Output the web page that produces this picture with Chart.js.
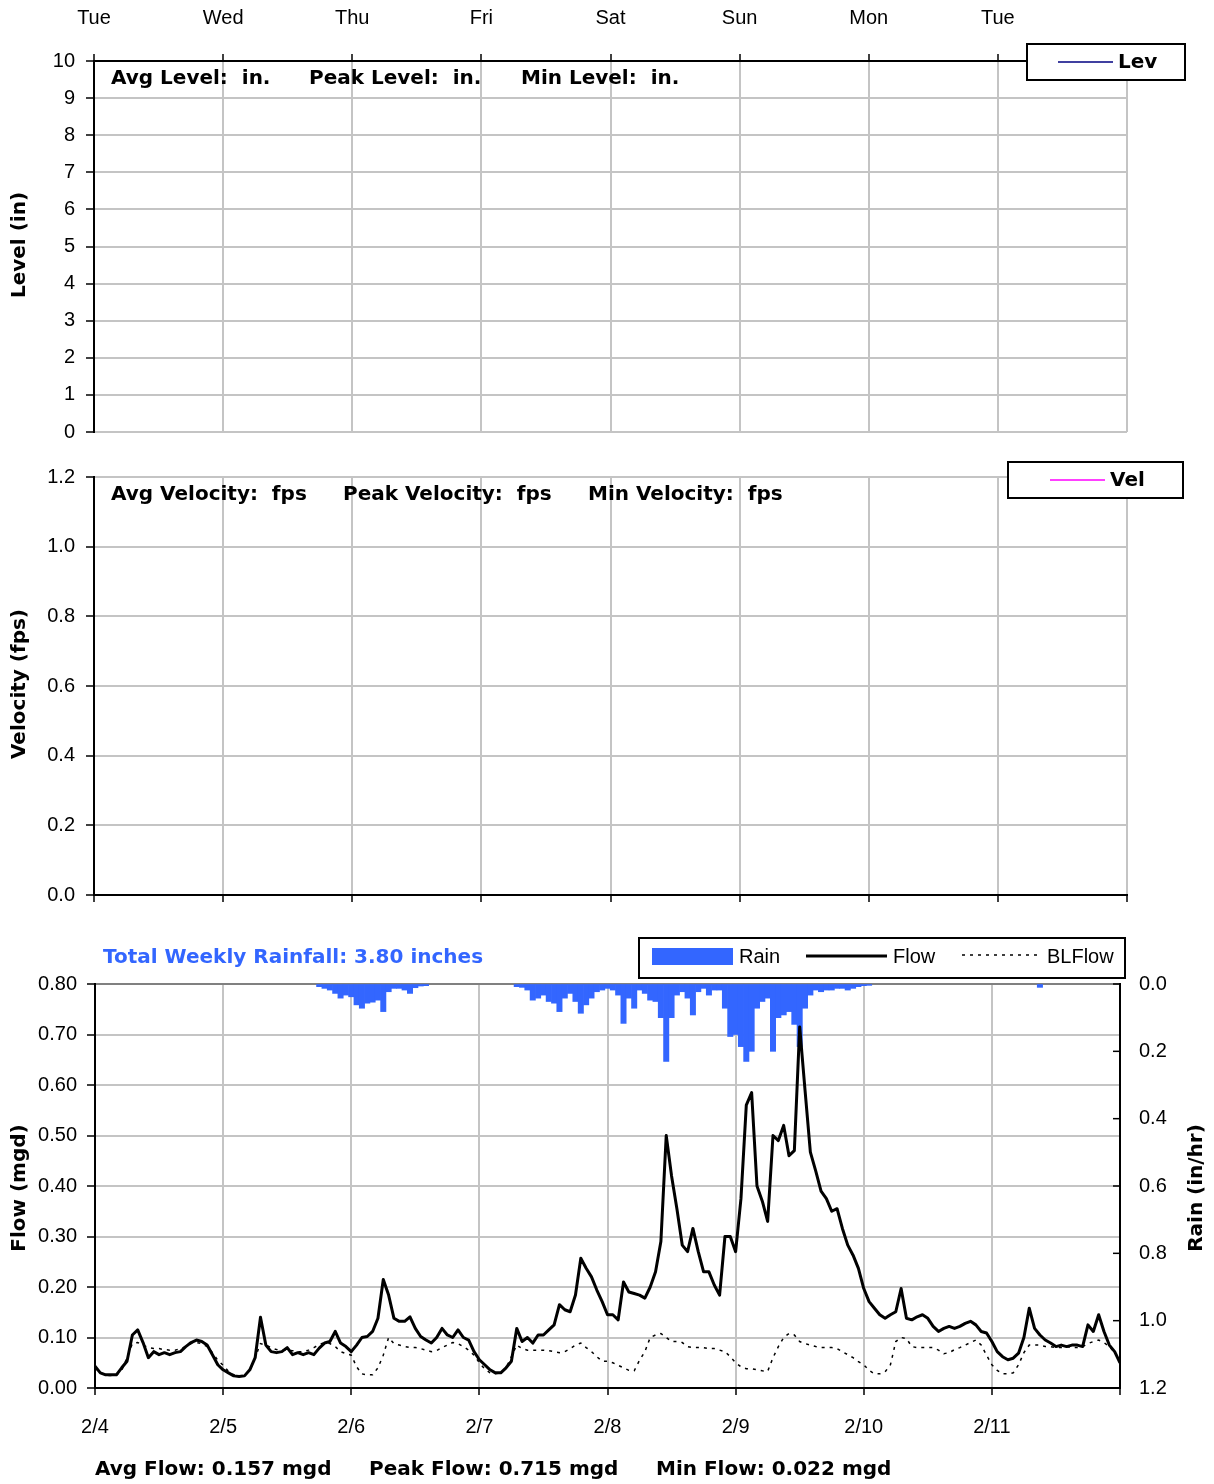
<!DOCTYPE html>
<html>
<head>
<meta charset="utf-8">
<script src="https://cdn.jsdelivr.net/npm/chart.js@4.4.1/dist/chart.umd.min.js"></script>
<style>
body { margin: 0; background: #fff; }
canvas { position: absolute; left: 0; display: block; }
</style>
</head>
<body>
<canvas id="levelChart" width="1214" height="455" style="top:0"></canvas>
<canvas id="velocityChart" width="1214" height="473" style="top:445px"></canvas>
<canvas id="flowChart" width="1214" height="569" style="top:915px"></canvas>
<script>
var dayLabels = ['Tue', 'Wed', 'Thu', 'Fri', 'Sat', 'Sun', 'Mon', 'Tue'];
var dateLabels = ['2/4', '2/5', '2/6', '2/7', '2/8', '2/9', '2/10', '2/11'];

// hourly flow (mgd), 2/4 00:00 .. 2/12 00:00
var flow = [
	0.043,0.030,0.026,0.026,0.026,0.040,0.053,0.105,0.115,0.090,0.060,0.072,0.066,0.070,0.066,0.070,0.072,0.082,0.090,0.095,0.092,0.085,0.066,0.046,
	0.036,0.030,0.024,0.023,0.024,0.036,0.060,0.140,0.085,0.072,0.070,0.072,0.080,0.066,0.070,0.066,0.070,0.066,0.079,0.089,0.092,0.112,0.089,0.082,
	0.072,0.085,0.100,0.102,0.112,0.138,0.215,0.184,0.138,0.132,0.132,0.141,0.118,0.102,0.095,0.089,0.100,0.118,0.105,0.100,0.115,0.100,0.095,0.072,
	0.056,0.046,0.036,0.030,0.030,0.040,0.053,0.118,0.092,0.100,0.089,0.105,0.105,0.115,0.125,0.165,0.155,0.151,0.184,0.257,0.237,0.220,0.194,0.171,
	0.145,0.145,0.135,0.210,0.190,0.187,0.184,0.178,0.200,0.230,0.290,0.500,0.420,0.355,0.283,0.270,0.316,0.270,0.230,0.230,0.204,0.184,0.300,0.300,
	0.270,0.375,0.560,0.585,0.400,0.370,0.330,0.500,0.490,0.520,0.460,0.470,0.715,0.590,0.467,0.430,0.390,0.375,0.350,0.355,0.316,0.283,0.263,0.237,
	0.197,0.171,0.158,0.145,0.138,0.145,0.151,0.197,0.138,0.135,0.141,0.145,0.138,0.122,0.112,0.118,0.122,0.118,0.122,0.128,0.132,0.125,0.112,0.109,
	0.092,0.072,0.062,0.056,0.059,0.069,0.100,0.158,0.118,0.105,0.095,0.089,0.082,0.085,0.082,0.085,0.085,0.082,0.125,0.112,0.145,0.112,0.085,0.072,
	0.050
];

// hourly baseline flow (mgd)
var blFlow = [
	0.040,0.030,0.025,0.025,0.025,0.035,0.060,0.088,0.090,0.085,0.080,0.078,0.078,0.076,0.075,0.075,0.078,0.082,0.088,0.090,0.088,0.082,0.070,0.055,
	0.045,0.033,0.026,0.024,0.025,0.035,0.060,0.088,0.085,0.080,0.076,0.075,0.075,0.074,0.072,0.072,0.075,0.080,0.086,0.090,0.088,0.082,0.072,0.068,
	0.065,0.042,0.028,0.026,0.026,0.040,0.065,0.100,0.088,0.085,0.082,0.080,0.080,0.078,0.075,0.072,0.074,0.080,0.085,0.090,0.088,0.082,0.075,0.065,
	0.050,0.038,0.030,0.028,0.030,0.040,0.062,0.085,0.078,0.075,0.075,0.075,0.075,0.074,0.072,0.070,0.072,0.078,0.085,0.089,0.080,0.072,0.062,0.053,
	0.053,0.050,0.045,0.040,0.035,0.034,0.055,0.072,0.100,0.105,0.108,0.100,0.092,0.092,0.090,0.082,0.080,0.080,0.080,0.078,0.078,0.075,0.072,0.062,
	0.050,0.042,0.038,0.038,0.036,0.034,0.033,0.060,0.082,0.100,0.108,0.105,0.092,0.088,0.085,0.082,0.080,0.080,0.080,0.078,0.072,0.066,0.060,0.052,
	0.046,0.035,0.028,0.028,0.032,0.046,0.092,0.100,0.098,0.082,0.080,0.080,0.080,0.080,0.075,0.068,0.070,0.076,0.080,0.085,0.090,0.095,0.085,0.065,
	0.046,0.035,0.028,0.028,0.030,0.046,0.070,0.085,0.085,0.085,0.082,0.082,0.080,0.080,0.082,0.080,0.080,0.082,0.088,0.092,0.095,0.090,0.082,0.070,
	0.055
];

// hourly rain (in/hr)
var rain = [
	0,0,0,0,0,0,0,0,0,0,0,0,0,0,0,0,0,0,0,0,0,0,0,0,
	0,0,0,0,0,0,0,0,0,0,0,0,0,0,0,0,0,0,0.008,0.013,0.018,0.028,0.042,0.033,
	0.038,0.062,0.072,0.057,0.054,0.048,0.082,0.023,0.013,0.013,0.018,0.028,0.011,0.006,0.005,0,0,0,0,0,0,0,0,0,
	0,0,0,0,0,0,0,0.008,0.010,0.018,0.048,0.042,0.033,0.052,0.057,0.082,0.042,0.028,0.052,0.087,0.062,0.042,0.023,0.018,
	0.013,0.018,0.033,0.117,0.042,0.072,0.018,0.028,0.048,0.052,0.100,0.230,0.100,0.033,0.023,0.042,0.092,0.023,0.013,0.033,0.018,0.018,0.072,0.156,
	0.150,0.186,0.230,0.200,0.072,0.052,0.042,0.200,0.100,0.092,0.082,0.120,0.186,0.072,0.033,0.018,0.023,0.018,0.018,0.013,0.013,0.018,0.013,0.008,
	0.005,0.004,0,0,0,0,0,0,0,0,0,0,0,0,0,0,0,0,0,0,0,0,0,0,
	0,0,0,0,0,0,0,0,0,0.010,0,0,0,0,0,0,0,0,0,0,0,0,0,0
];

var levelStats = ['Avg Level:  in.', 'Peak Level:  in.', 'Min Level:  in.'];
var velocityStats = ['Avg Velocity:  fps', 'Peak Velocity:  fps', 'Min Velocity:  fps'];
var flowStats = ['Avg Flow: 0.157 mgd', 'Peak Flow: 0.715 mgd', 'Min Flow: 0.022 mgd'];
var rainTitle = 'Total Weekly Rainfall: 3.80 inches';

var TICK_FONT = '"Liberation Sans", Arial, sans-serif';
var BOLD_FONT = 'bold 20px "DejaVu Sans", Verdana, sans-serif';
var GRID = '#c4c4c4';
var RAIN_BLUE = '#3366ff';

Chart.defaults.font.family = TICK_FONT;
Chart.defaults.font.size = 20;
Chart.defaults.color = '#000';
Chart.defaults.animation = false;
Chart.defaults.plugins.legend.display = false;
Chart.defaults.plugins.tooltip.enabled = false;

var fixWidth = function(w) { return function(scale) { scale.width = w; }; };
var fixHeight = function(h) { return function(scale) { scale.height = h; }; };
var toPoints = function(arr) {
	return arr.map(function(v, i) { return {x: i, y: v}; });
};
var rainPoints = function(arr) {
	return toPoints(arr).filter(function(p) { return p.y > 0; });
};

var drawText = function(ctx, str, x, y, font, color, align, angle) {
	ctx.save();
	ctx.font = font;
	ctx.fillStyle = color || '#000';
	ctx.textAlign = align || 'left';
	ctx.textBaseline = 'middle';
	ctx.translate(x, y);
	if (angle) ctx.rotate(angle);
	ctx.fillText(str, 0, 0);
	ctx.restore();
};

var drawBox = function(ctx, x, y, w, h) {
	ctx.fillStyle = '#fff';
	ctx.fillRect(x, y, w, h);
	ctx.strokeStyle = '#000';
	ctx.lineWidth = 2;
	ctx.strokeRect(x, y, w, h);
};

var overlay = function(id, draw) {
	return {
		id: id,
		afterDraw: function(chart) {
			var ctx = chart.ctx;
			ctx.save();
			draw(chart, ctx);
			ctx.restore();
		}
	};
};

var dayAxis = function(position, height, showLabels, labels, padding) {
	return {
		type: 'linear', position: position, min: 0, max: 192, offset: false,
		afterFit: fixHeight(height),
		ticks: {
			stepSize: 24, autoSkip: false, maxRotation: 0, display: showLabels, padding: padding,
			callback: function(v) { return labels[v / 24] || ''; }
		},
		grid: { color: GRID, lineWidth: 2, tickLength: 7, tickColor: '#000', tickWidth: 1.5, offset: false },
		border: { color: '#000', width: 2 }
	};
};

/* Level
------------------------------------------------ */
new Chart(document.getElementById('levelChart'), {
	type: 'line',
	data: { datasets: [{ label: 'Lev', data: [], borderColor: '#000080', borderWidth: 1.5 }] },
	options: {
		responsive: false,
		devicePixelRatio: 1,
		layout: { padding: { top: 0, right: 87, bottom: 0, left: 0 } },
		scales: {
			x: dayAxis('top', 61, true, dayLabels, 24),
			y: {
				min: 0, max: 10, afterFit: fixWidth(94),
				ticks: { stepSize: 1, padding: 11 },
				grid: { color: GRID, lineWidth: 2, tickLength: 8, tickColor: '#000', tickWidth: 1.5 },
				border: { color: '#000', width: 2 }
			}
		}
	},
	plugins: [overlay('levelText', function(chart, ctx) {
		var xs = [111, 309, 521];
		levelStats.forEach(function(s, i) { drawText(ctx, s, xs[i], 79, BOLD_FONT); });
		drawText(ctx, 'Level (in)', 20, 245, BOLD_FONT, '#000', 'center', -Math.PI / 2);
		var ds = chart.data.datasets[0];
		drawBox(ctx, 1027, 44, 158, 36);
		ctx.strokeStyle = ds.borderColor;
		ctx.lineWidth = 1.5;
		ctx.beginPath(); ctx.moveTo(1058, 62); ctx.lineTo(1113, 62); ctx.stroke();
		drawText(ctx, ds.label, 1118, 63, BOLD_FONT);
	})]
});

/* Velocity
------------------------------------------------ */
new Chart(document.getElementById('velocityChart'), {
	type: 'line',
	data: { datasets: [{ label: 'Vel', data: [], borderColor: '#ff00ff', borderWidth: 1.5 }] },
	options: {
		responsive: false,
		devicePixelRatio: 1,
		layout: { padding: { top: 32, right: 87, bottom: 0, left: 0 } },
		scales: {
			x: dayAxis('bottom', 18, false, dateLabels, 0),
			y: {
				min: 0, max: 1.2, afterFit: fixWidth(94),
				ticks: { stepSize: 0.2, padding: 11, callback: function(v) { return v.toFixed(1); } },
				grid: { color: GRID, lineWidth: 2, tickLength: 8, tickColor: '#000', tickWidth: 1.5 },
				border: { color: '#000', width: 2 }
			}
		}
	},
	plugins: [overlay('velocityText', function(chart, ctx) {
		var xs = [111, 343, 588];
		velocityStats.forEach(function(s, i) { drawText(ctx, s, xs[i], 50, BOLD_FONT); });
		drawText(ctx, 'Velocity (fps)', 20, 239, BOLD_FONT, '#000', 'center', -Math.PI / 2);
		var ds = chart.data.datasets[0];
		drawBox(ctx, 1008, 17, 175, 36);
		ctx.strokeStyle = ds.borderColor;
		ctx.lineWidth = 1.5;
		ctx.beginPath(); ctx.moveTo(1050, 35); ctx.lineTo(1105, 35); ctx.stroke();
		drawText(ctx, ds.label, 1110, 36, BOLD_FONT);
	})]
});

/* Flow / Rain
------------------------------------------------ */
new Chart(document.getElementById('flowChart'), {
	type: 'line',
	data: {
		datasets: [{
			label: 'Flow',
			data: toPoints(flow),
			borderColor: '#000',
			borderWidth: 3,
			borderJoinStyle: 'round',
			pointRadius: 0,
			tension: 0,
			yAxisID: 'y',
			order: 1
		}, {
			label: 'BLFlow',
			data: toPoints(blFlow),
			borderColor: '#000',
			borderWidth: 1.5,
			borderDash: [3, 5],
			pointRadius: 0,
			tension: 0,
			yAxisID: 'y',
			order: 2
		}, {
			type: 'bar',
			label: 'Rain',
			data: rainPoints(rain),
			backgroundColor: RAIN_BLUE,
			borderWidth: 0,
			barPercentage: 1,
			categoryPercentage: 1,
			yAxisID: 'y2',
			order: 3
		}]
	},
	options: {
		responsive: false,
		devicePixelRatio: 1,
		layout: { padding: { top: 69, right: 0, bottom: 0, left: 0 } },
		scales: {
			x: dayAxis('bottom', 96, true, dateLabels, 20),
			y: {
				position: 'left', min: 0, max: 0.8, afterFit: fixWidth(95),
				ticks: { stepSize: 0.1, padding: 10, callback: function(v) { return v.toFixed(2); } },
				grid: {
					color: function(c) { return c.tick && c.tick.value >= 0.8 ? '#808080' : GRID; },
					lineWidth: 2, tickLength: 8, tickColor: '#000', tickWidth: 1.5
				},
				border: { color: '#000', width: 2 }
			},
			y2: {
				position: 'right', min: 0, max: 1.2, reverse: true, afterFit: fixWidth(94),
				ticks: { stepSize: 0.2, padding: 19, callback: function(v) { return v.toFixed(1); } },
				grid: { drawOnChartArea: false, drawTicks: false },
				border: { color: '#000', width: 2 }
			}
		}
	},
	plugins: [overlay('flowText', function(chart, ctx) {
		var y2 = chart.scales.y2;
		ctx.strokeStyle = '#000';
		ctx.lineWidth = 1.5;
		y2.ticks.forEach(function(t) {
			var py = y2.getPixelForValue(t.value);
			ctx.beginPath(); ctx.moveTo(y2.left - 7, py); ctx.lineTo(y2.left, py); ctx.stroke();
		});

		drawText(ctx, rainTitle, 103, 43, BOLD_FONT, RAIN_BLUE);
		var xs = [95, 369, 656];
		flowStats.forEach(function(s, i) { drawText(ctx, s, xs[i], 555, BOLD_FONT); });
		drawText(ctx, 'Flow (mgd)', 20, 273, BOLD_FONT, '#000', 'center', -Math.PI / 2);
		drawText(ctx, 'Rain (in/hr)', 1197, 273, BOLD_FONT, '#000', 'center', -Math.PI / 2);

		// legend
		var ds = chart.data.datasets;
		var legendFont = '20px ' + TICK_FONT;
		drawBox(ctx, 639, 23, 486, 40);
		ctx.fillStyle = ds[2].backgroundColor;
		ctx.fillRect(652, 33, 81, 17);
		drawText(ctx, ds[2].label, 739, 42, legendFont);
		ctx.strokeStyle = ds[0].borderColor;
		ctx.lineWidth = 3;
		ctx.beginPath(); ctx.moveTo(806, 41); ctx.lineTo(887, 41); ctx.stroke();
		drawText(ctx, ds[0].label, 893, 42, legendFont);
		ctx.lineWidth = 1.5;
		ctx.setLineDash(ds[1].borderDash);
		ctx.beginPath(); ctx.moveTo(962, 40); ctx.lineTo(1040, 40); ctx.stroke();
		ctx.setLineDash([]);
		drawText(ctx, ds[1].label, 1047, 42, legendFont);
	})]
});
</script>
</body>
</html>
